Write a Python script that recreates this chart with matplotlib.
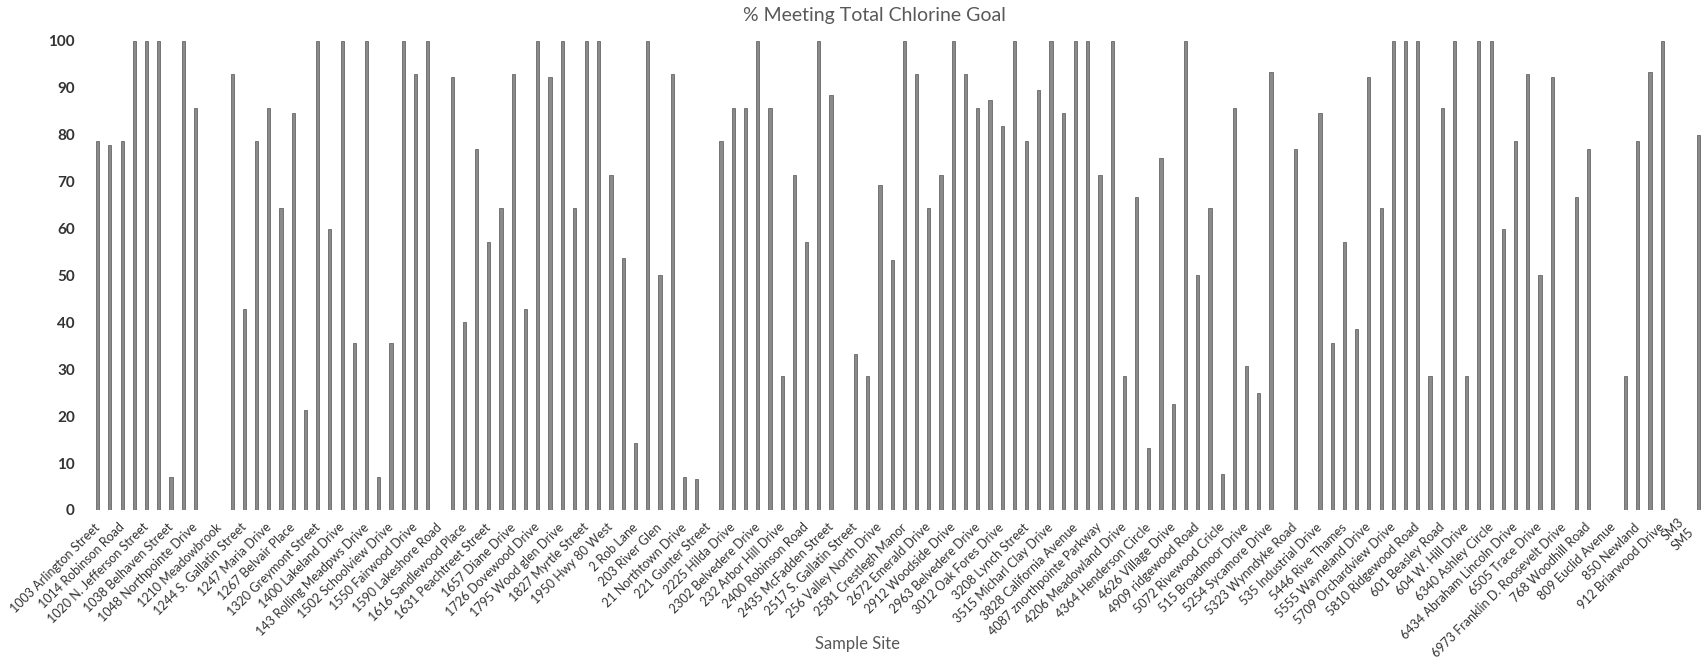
import numpy as np
import matplotlib.pyplot as plt

plt.rcParams['font.family'] = ['Lato', 'DejaVu Sans']

# Sample sites shown on the axis (every second category carries a label)
sites = ["1003 Arlington Street", "1014 Robinson Road", "1020 N. Jefferson Street",
         "1038 Belhaven Street", "1048 Northpointe Drive", "1210 Meadowbrook",
         "1244 S. Gallatin Street", "1247 Maria Drive", "1267 Belvair Place",
         "1320 Greymont Street", "1400 Lakeland Drive", "143 Rolling Meadpws Drive",
         "1502 Schoolview Drive", "1550 Fairwood Drive", "1590 Lakeshore Road",
         "1616 Sandlewood Place", "1631 Peachtreet Street", "1657 Diane Drive",
         "1726 Dovewood Drive", "1795 Wood glen Drive", "1827 Myrtle Street",
         "1950 Hwy 80 West", "2 Rob Lane", "203 River Glen", "21 Northtown Drive",
         "221 Gunter Street", "2225 Hilda Drive", "2302 Belvedere Drive",
         "232 Arbor Hill Drive", "2400 Robinson Road", "2435 McFadden Street",
         "2517 S. Gallatin Street", "256 Valley North Drive", "2581 Crestlegh Manor",
         "2672 Emerald Drive", "2912 Woodside Drive", "2963 Belvedere Drive",
         "3012 Oak Fores Drive", "3208 Lynch Street", "3515 Micharl Clay Drive",
         "3828 California Avenue", "4087 znorthpointe Parkway", "4206 Meadowland Drive",
         "4364 Henderson Circle", "4626 Village Drive", "4909 ridgewood Road",
         "5072 Rivewood Cricle", "515 Broadmoor Drive", "5254 Sycamore Drive",
         "5323 Wynndyke Road", "535 Industrial Drive", "5446 Rive Thames",
         "5555 Wayneland Drive", "5709 Orchardview Drive", "5810 Ridgewood Road",
         "601 Beasley Road", "604 W. Hill Drive", "6340 Ashley Circle",
         "6434 Abraham Lincoln Drive", "6505 Trace Drive",
         "6973 Franklin D. Roosevelt Drive", "768 Woodhill Road", "809 Euclid Avenue",
         "850 Newland", "912 Briarwood Drive", "SM3\nSM5"]

# % meeting total chlorine goal, one value per sample (132 samples)
pct_meeting = [78.6, 77.8, 78.6, 100, 100, 100, 7.1, 100, 85.7, 0,
               0, 92.9, 42.9, 78.6, 85.7, 64.3, 84.6, 21.4, 100, 60,
               100, 35.7, 100, 7.1, 35.7, 100, 92.9, 100, 0, 92.3,
               40, 76.9, 57.1, 64.3, 92.9, 42.9, 100, 92.3, 100, 64.3,
               100, 100, 71.4, 53.8, 14.3, 100, 50, 92.9, 7.1, 6.7,
               0, 78.6, 85.7, 85.7, 100, 85.7, 28.6, 71.4, 57.1, 100,
               88.5, 0, 33.3, 28.6, 69.2, 53.3, 100, 92.9, 64.3, 71.4,
               100, 92.9, 85.7, 87.5, 81.8, 100, 78.6, 89.5, 100, 84.6,
               100, 100, 71.4, 100, 28.6, 66.7, 13.3, 75, 22.7, 100,
               50, 64.3, 7.7, 85.7, 30.8, 25, 93.3, 0, 76.9, 0,
               84.6, 35.7, 57.1, 38.5, 92.3, 64.3, 100, 100, 100, 28.6,
               85.7, 100, 28.6, 100, 100, 60, 78.6, 92.9, 50, 92.3,
               0, 66.7, 76.9, 0, 0, 28.6, 78.6, 93.3, 100, 0,
               0, 80]

x = np.arange(len(pct_meeting))

fig = plt.figure(figsize=(17.05, 6.61), dpi=100)
ax = fig.add_axes([0.0537, 0.2285, 0.9463, 0.7095])

# thin patterned-looking bars: grey fill with a darker outline
ax.bar(x, pct_meeting, width=0.26, color='#8a8a8a', edgecolor='#555555', linewidth=0.5)

ax.set_xlim(-0.5, len(pct_meeting) - 0.5)
ax.set_ylim(0, 100)
ax.set_yticks(np.arange(0, 101, 10))
ax.tick_params(axis='y', length=0, pad=12, labelsize=11, labelcolor='#333333')
for lbl in ax.get_yticklabels():
    lbl.set_fontweight('bold')

ax.set_xticks(x[::2])
ax.set_xticklabels(sites, rotation=45, ha='right', va='center',
                   rotation_mode='anchor', fontsize=9, color='#333333')
ax.tick_params(axis='x', length=0, pad=11)

for side in ['top', 'right', 'left', 'bottom']:
    ax.spines[side].set_visible(False)

fig.text(0.5126, 0.976, "% Meeting Total Chlorine Goal", ha='center', va='center',
         fontsize=14, color='#595959')
fig.text(0.503, 0.026, "Sample Site", ha='center', va='center',
         fontsize=12, color='#595959')

fig.savefig('out.png', dpi=100)
